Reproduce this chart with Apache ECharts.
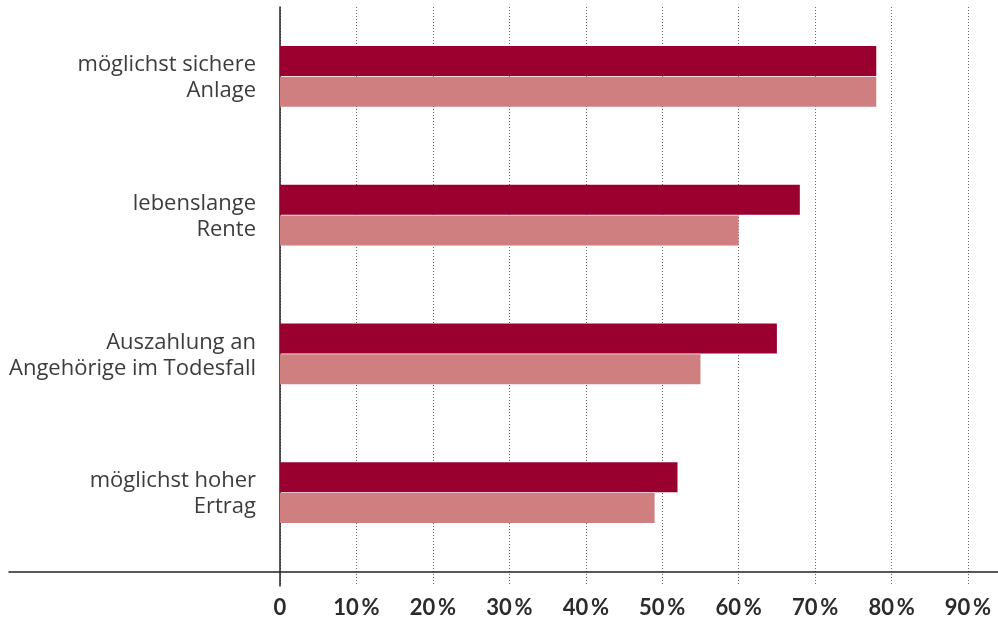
<!DOCTYPE html>
<html>
<head>
<meta charset="utf-8">
<script src="https://cdn.jsdelivr.net/npm/echarts@6/dist/echarts.min.js"></script>
<style>
  html, body { margin: 0; padding: 0; background: #fff; }
  #chart { width: 998px; height: 619px; }
</style>
</head>
<body>
<div id="chart"></div>
<script>
// categories top to bottom
const categories = [
  'möglichst sichere\nAnlage',
  'lebenslange\nRente',
  'Auszahlung an\nAngehörige im Todesfall',
  'möglichst hoher\nErtrag'
];
const darkValues = [78, 68, 65, 52];
const lightValues = [78, 60, 55, 49];
const xMax = 90;
const xStep = 10;

const labelFont = { color: '#3c3c3c', fontFamily: 'Open Sans', fontSize: 22, lineHeight: 29 };

const chart = echarts.init(document.getElementById('chart'));
chart.setOption({
  animation: false,
  backgroundColor: '#fff',
  grid: [
    // frame: grid lines + tick labels + vertical axis
    { left: 280, right: 30, top: 7, bottom: 33 },
    // bars
    { left: 280, right: 30, top: 7, bottom: 57 },
    // long base line
    { left: 9, right: 0, top: 7, bottom: 47 }
  ],
  xAxis: [
    {
      gridIndex: 0, type: 'value', min: 0, max: xMax, interval: xStep,
      axisLine: { show: false }, axisTick: { show: false },
      splitLine: { show: true, lineStyle: { color: '#666', type: [1, 2], width: 1 } },
      axisLabel: {
        margin: 11, color: '#2b2b2b', fontFamily: 'Lato', fontSize: 22, fontWeight: 'bold',
        formatter: v => v === 0 ? '0' : v + '\u2009%'
      }
    },
    {
      gridIndex: 1, type: 'value', min: 0, max: xMax, show: false
    },
    {
      gridIndex: 2, type: 'value', min: 0, max: 1,
      axisLine: { show: true, lineStyle: { color: '#222', width: 1.5 } },
      axisTick: { show: false }, axisLabel: { show: false }, splitLine: { show: false }
    }
  ],
  yAxis: [
    {
      gridIndex: 0, type: 'category', data: [''],
      axisLine: { show: true, lineStyle: { color: '#222', width: 1.5 } },
      axisTick: { show: false }, axisLabel: { show: false }
    },
    {
      gridIndex: 1, type: 'category', data: categories, inverse: true,
      axisLine: { show: false }, axisTick: { show: false },
      axisLabel: Object.assign({
        margin: 24, align: 'right',
        // first line a bit taller so the block sits ~3px lower, as in the print
        formatter: v => v.split('\n').map((s, i) => (i === 0 ? '{t|' : '{n|') + s + '}').join('\n'),
        rich: {
          t: Object.assign({ padding: [6, 0, 0, 0] }, labelFont),
          n: Object.assign({}, labelFont)
        }
      }, labelFont)
    },
    {
      gridIndex: 2, type: 'category', data: [''], show: false
    }
  ],
  series: [
    {
      type: 'bar', xAxisIndex: 1, yAxisIndex: 1, data: darkValues,
      barWidth: 30, barGap: '3%', itemStyle: { color: '#990030' }
    },
    {
      type: 'bar', xAxisIndex: 1, yAxisIndex: 1, data: lightValues,
      barWidth: 30, itemStyle: { color: '#cf7f7f' }
    }
  ]
});
</script>
</body>
</html>
